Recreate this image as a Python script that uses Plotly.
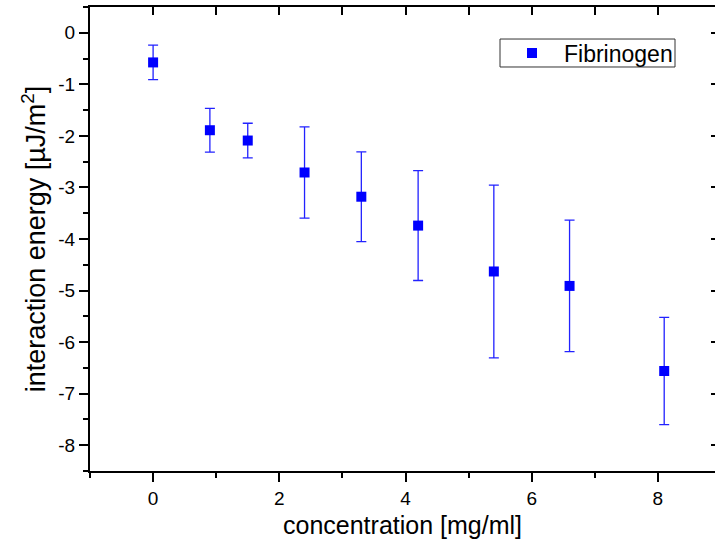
import plotly.graph_objects as go

concentration = [0, 0.9, 1.5, 2.4, 3.3, 4.2, 5.4, 6.6, 8.1]
energy = [-0.575, -1.89, -2.09, -2.71, -3.18, -3.74, -4.63, -4.91, -6.56]
energy_err = [0.335, 0.425, 0.335, 0.885, 0.87, 1.065, 1.675, 1.275, 1.04]

x_ticks = [0, 2, 4, 6, 8]
x_tick_labels = ["0", "2", "4", "6", "8"]
y_ticks = [0, -1, -2, -3, -4, -5, -6, -7, -8]
y_tick_labels = ["0", "-1", "-2", "-3", "-4", "-5", "-6", "-7", "-8"]

FONT = "Arial, 'Liberation Sans', sans-serif"
XR = [-1.0, 8.905]
YR = [-8.5, 0.5]

fig = go.Figure()
fig.add_trace(go.Scatter(
    x=concentration, y=energy, mode="markers", name="Fibrinogen",
    marker=dict(symbol="square", size=10, color="#0000FF"),
    error_y=dict(type="data", array=energy_err, visible=True,
                 color="#2222FF", thickness=1.3, width=5),
))
# companion trace for the mirrored top/right axes
fig.add_trace(go.Scatter(x=[None], y=[None], xaxis="x2", yaxis="y2",
                         showlegend=False, hoverinfo="skip"))

# legend frame (paper coordinates)
fig.add_shape(type="rect", xref="paper", yref="paper",
              x0=0.656, x1=0.936, y0=0.8707, y1=0.931,
              line=dict(color="#333333", width=1), fillcolor="white",
              layer="below")

fig.update_layout(
    width=715, height=552,
    margin=dict(l=90, r=0, t=7, b=81),
    paper_bgcolor="white", plot_bgcolor="rgba(0,0,0,0)",
    font=dict(family=FONT, size=19, color="black"),
    showlegend=True,
    legend=dict(x=0.656, y=0.9009, xanchor="left", yanchor="middle",
                bgcolor="rgba(0,0,0,0)", borderwidth=0,
                font=dict(size=23), itemwidth=54),
    xaxis=dict(range=XR, tickvals=x_ticks, ticktext=x_tick_labels,
               ticks="outside", ticklen=9, automargin=False,
               tickwidth=1.5, tickcolor="black", showline=True, linewidth=2,
               linecolor="black", showgrid=False, zeroline=False,
               minor=dict(dtick=1, tick0=-1, ticks="outside", ticklen=5,
                          tickwidth=1.5, tickcolor="black"),
               title=dict(text="concentration [mg/ml]", font=dict(size=25),
                          standoff=9),
               tickfont=dict(size=19)),
    yaxis=dict(range=YR, tickvals=y_ticks, ticktext=y_tick_labels,
               ticks="outside", ticklen=9, automargin=False,
               tickwidth=1.5, tickcolor="black", showline=True, linewidth=2,
               linecolor="black", showgrid=False, zeroline=False,
               minor=dict(dtick=0.5, tick0=0.5, ticks="outside", ticklen=5,
                          tickwidth=1.5, tickcolor="black"),
               title=dict(text="interaction energy [µJ/m<sup>2</sup>]",
                          font=dict(size=27), standoff=5),
               tickfont=dict(size=19)),
    xaxis2=dict(range=XR, overlaying="x", side="top", anchor="y2",
                dtick=1, tick0=0, ticks="inside", ticklen=8, tickwidth=1.5,
                tickcolor="black", showticklabels=False, showline=True,
                automargin=False,
                linewidth=2, linecolor="black", showgrid=False, zeroline=False),
    yaxis2=dict(range=YR, overlaying="y", side="right", anchor="x2",
                tickvals=y_ticks, ticks="inside", ticklen=4, tickwidth=1.5,
                automargin=False,
                tickcolor="black", showticklabels=False, showline=False,
                showgrid=False, zeroline=False),
)

fig.write_html(
    "out.html",
    config={"displayModeBar": False},
    post_script="document.body.style.margin='0';"
                "document.body.style.overflow='hidden';",
)
